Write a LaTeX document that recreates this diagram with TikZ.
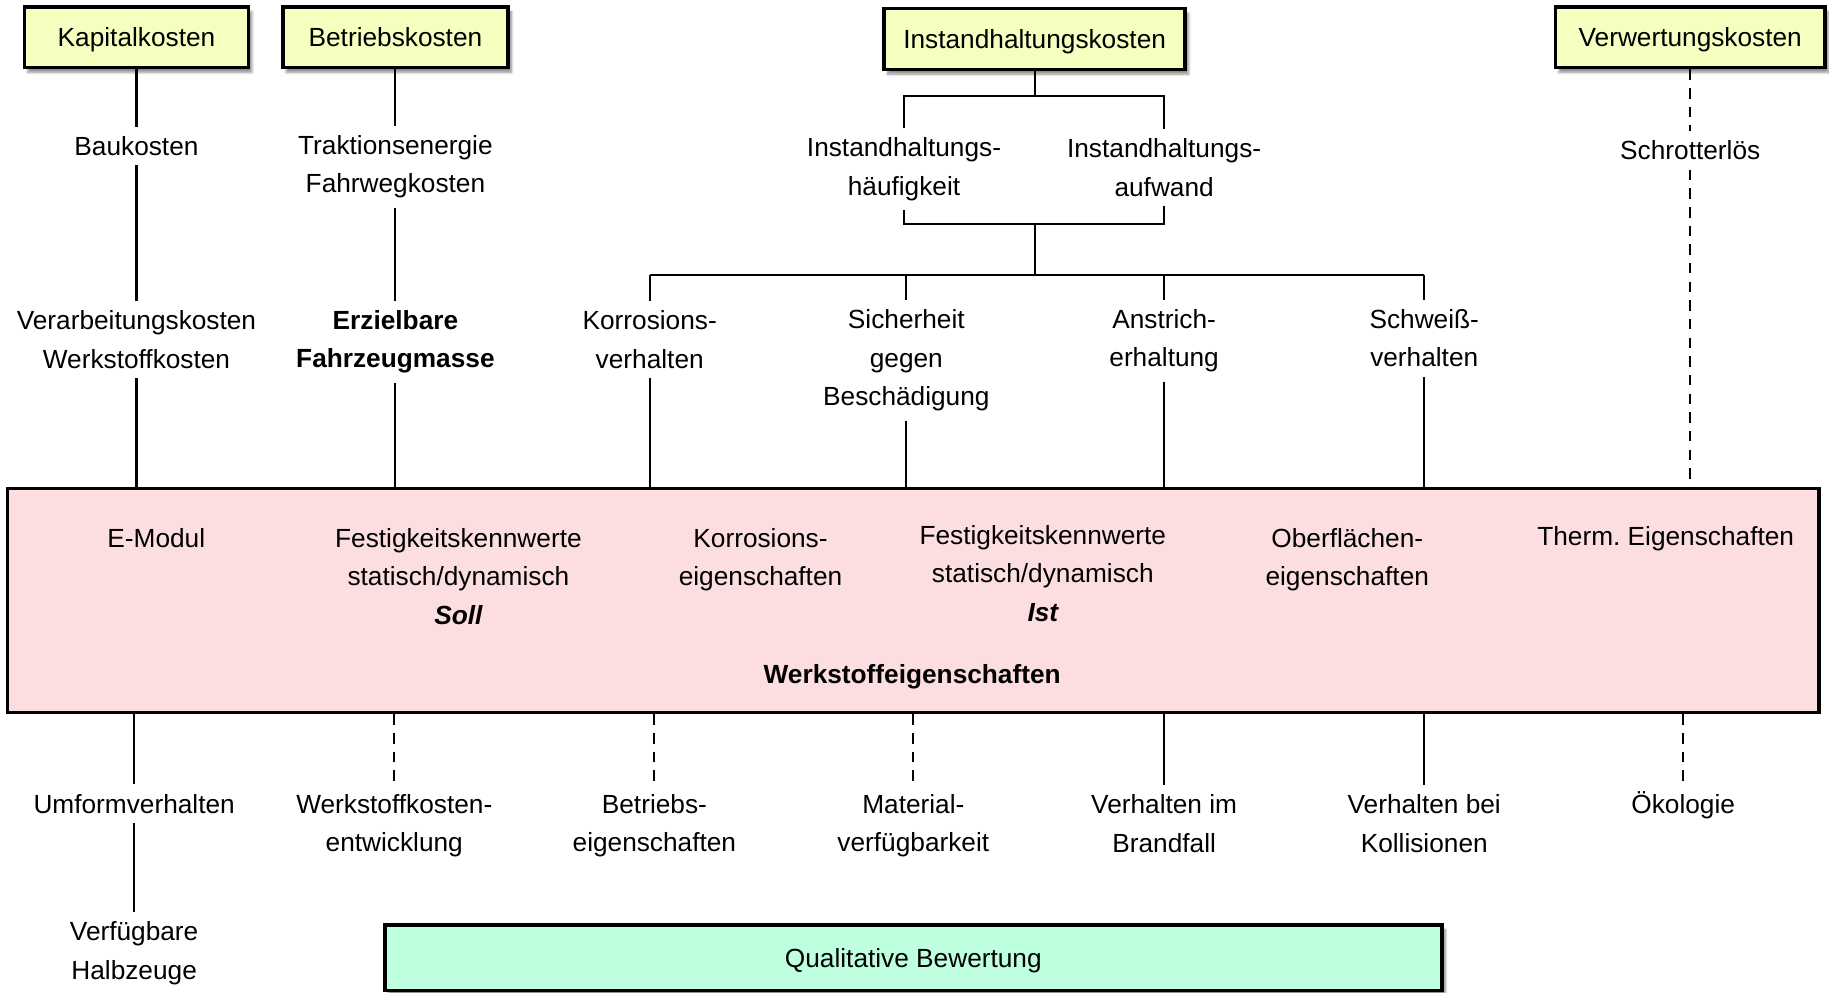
\documentclass[tikz,border=0pt]{standalone}
\usepackage{fontspec}
\setmainfont{Liberation Sans}
\usetikzlibrary{shadows,shadows.blur}
\definecolor{boxyellow}{RGB}{245,255,192}
\definecolor{boxpink}{RGB}{253,222,224}
\definecolor{boxmint}{RGB}{190,255,222}
\begin{document}
\begin{tikzpicture}[x=1pt,y=-1pt,
  every node/.style={font=\fontsize{22.5}{33}\selectfont, align=center, inner sep=0pt},
  lab/.style={inner xsep=4pt, inner ysep=8pt},
  shd/.style={blur shadow={shadow blur steps=6, shadow xshift=3pt, shadow yshift=-4pt, shadow opacity=45}},
  cost/.style={draw, line width=3pt, fill=boxyellow, shd, minimum height=52pt, text height=17pt, text depth=1pt},
  conn/.style={line width=1.8pt},
  dconn/.style={line width=1.8pt, dash pattern=on 9pt off 7pt},
]
\useasboundingbox (0,0) rectangle (1568,851);

% top cost boxes
\node[cost, minimum width=192pt] (kap) at (117,32) {Kapitalkosten};
\node[cost, minimum width=193pt] (bet) at (339,32) {Betriebskosten};
\node[cost, minimum width=258pt, minimum height=52pt] (ihk) at (887,33.5) {Instandhaltungskosten};
\node[cost, minimum width=231pt] (ver) at (1449,32) {Verwertungskosten};

% upper labels
\node[lab] (bau) at (117,125) {Baukosten};
\node[lab] (vwk) at (117,291) {Verarbeitungskosten\\Werkstoffkosten};
\node[lab] (tra) at (339,143) {Traktionsenergie\\Fahrwegkosten};
\node[lab] (erz) at (339,293) {\bfseries Erzielbare\\\bfseries Fahrzeugmasse};
\node[lab] (ihh) at (775,145) {Instandhaltungs-\\häufigkeit};
\node[lab] (iha) at (998,143.5) {Instandhaltungs-\\aufwand};
\node[lab] (kvh) at (557,291) {Korrosions-\\verhalten};
\node[lab] (sgb) at (777,309) {Sicherheit\\gegen\\Beschädigung};
\node[lab] (ans) at (998,292) {Anstrich-\\erhaltung};
\node[lab] (swv) at (1221,290) {Schweiß-\\verhalten};
\node[lab] (sch) at (1449,129) {Schrotterlös};

% big box
\node[draw, line width=3pt, fill=boxpink, minimum width=1553pt, minimum height=192pt] (wst) at (783,515) {};
\node (emo) at (134,461) {E-Modul};
\node (fso) at (393,494) {Festigkeitskennwerte\\statisch/dynamisch\\\bfseries\itshape Soll};
\node (kei) at (652,480) {Korrosions-\\eigenschaften};
\node (fis) at (894,491.5) {Festigkeitskennwerte\\statisch/dynamisch\\\bfseries\itshape Ist};
\node (obe) at (1155,480) {Oberflächen-\\eigenschaften};
\node (the) at (1428,462) {Therm.\ Eigenschaften};
\node (wei) at (782,580) {\bfseries Werkstoffeigenschaften};

% lower labels
\node[lab] (umf) at (115,689) {Umformverhalten};
\node[lab] (vhz) at (115,817) {Verfügbare\\Halbzeuge};
\node[lab] (wke) at (338,708) {Werkstoffkosten-\\entwicklung};
\node[lab] (bei) at (561,708) {Betriebs-\\eigenschaften};
\node[lab] (mat) at (783,708) {Material-\\verfügbarkeit};
\node[lab] (vib) at (998,706) {Verhalten im\\Brandfall};
\node[lab] (vbk) at (1221,706) {Verhalten bei\\Kollisionen};
\node[lab] (oek) at (1443,690) {Ökologie};

\node[draw, line width=3pt, fill=boxmint, shd, minimum width=906pt, minimum height=56pt, text height=17pt, text depth=1pt] (qual) at (783,821) {Qualitative Bewertung};

% connectors upper
\draw[conn] (kap.south) -- (bau.north);
\draw[conn] (bau.south) -- (vwk.north);
\draw[conn] (vwk.south) -- (vwk.south |- wst.north);
\draw[conn] (bet.south) -- (tra.north);
\draw[conn] (tra.south) -- (erz.north);
\draw[conn] (erz.south) -- (erz.south |- wst.north);
\draw[dconn] (ver.south) -- (sch.north);
\draw[dconn] (sch.south) -- (sch.south |- wst.north);

\coordinate (j1) at (887,82);
\coordinate (j2) at (887,192);
\coordinate (j3) at (887,236);
\draw[conn] (ihk.south) -- (j1);
\draw[conn] (ihh.north) -- (ihh.north |- j1) -- (iha.north |- j1) -- (iha.north);
\draw[conn] (ihh.south) -- (ihh.south |- j2) -- (iha.south |- j2) -- (iha.south);
\draw[conn] (j2) -- (j3);
\draw[conn] (kvh.north |- j3) -- (swv.north |- j3);
\foreach \n in {kvh,sgb,ans,swv}{
  \draw[conn] (\n.north |- j3) -- (\n.north);
  \draw[conn] (\n.south) -- (\n.south |- wst.north);
}

% connectors lower
\draw[conn] (wst.south -| umf) -- (umf.north);
\draw[conn] (umf.south) -- (vhz.north);
\draw[dconn] (wst.south -| wke) -- (wke.north);
\draw[dconn] (wst.south -| bei) -- (bei.north);
\draw[dconn] (wst.south -| mat) -- (mat.north);
\draw[conn] (wst.south -| vib) -- (vib.north);
\draw[conn] (wst.south -| vbk) -- (vbk.north);
\draw[dconn] (wst.south -| oek) -- (oek.north);
\end{tikzpicture}
\end{document}
